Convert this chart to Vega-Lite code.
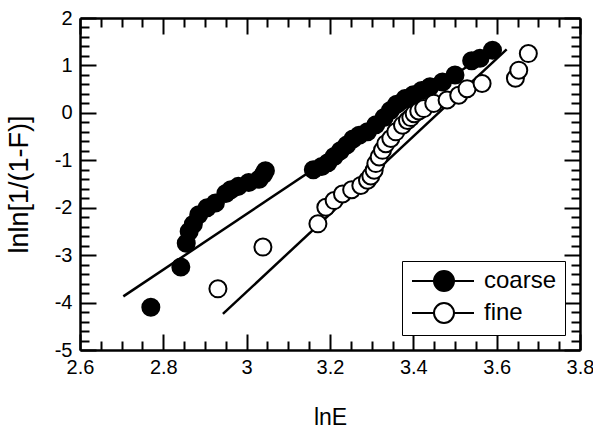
{
  "$schema": "https://vega.github.io/schema/vega-lite/v6.json",
  "autosize": "none",
  "width": 500,
  "height": 332,
  "padding": {"left": 80, "top": 18, "right": 13, "bottom": 82},
  "background": "white",
  "config": {
    "view": {"stroke": null},
    "font": "Liberation Sans",
    "axis": {
      "domainColor": "black", "domainWidth": 2.5, "tickColor": "black", "tickWidth": 2,
      "labelColor": "black", "titleColor": "black", "labelFont": "Liberation Sans",
      "titleFont": "Liberation Sans", "labelFontSize": 20, "titleFontSize": 25,
      "titleFontWeight": "normal", "grid": false, "labelOverlap": false, "labelFlush": false
    }
  },
  "datasets": {
    "pts": [
      {"series": "coarse", "lnE": 2.770, "y": -4.10},
      {"series": "coarse", "lnE": 2.842, "y": -3.25},
      {"series": "coarse", "lnE": 2.855, "y": -2.75},
      {"series": "coarse", "lnE": 2.862, "y": -2.50},
      {"series": "coarse", "lnE": 2.872, "y": -2.35},
      {"series": "coarse", "lnE": 2.885, "y": -2.15},
      {"series": "coarse", "lnE": 2.905, "y": -2.00},
      {"series": "coarse", "lnE": 2.925, "y": -1.90},
      {"series": "coarse", "lnE": 2.950, "y": -1.70},
      {"series": "coarse", "lnE": 2.962, "y": -1.62},
      {"series": "coarse", "lnE": 2.980, "y": -1.55},
      {"series": "coarse", "lnE": 3.005, "y": -1.47},
      {"series": "coarse", "lnE": 3.030, "y": -1.40},
      {"series": "coarse", "lnE": 3.040, "y": -1.30},
      {"series": "coarse", "lnE": 3.045, "y": -1.22},
      {"series": "coarse", "lnE": 3.160, "y": -1.20},
      {"series": "coarse", "lnE": 3.180, "y": -1.13},
      {"series": "coarse", "lnE": 3.195, "y": -1.05},
      {"series": "coarse", "lnE": 3.210, "y": -0.92},
      {"series": "coarse", "lnE": 3.225, "y": -0.80},
      {"series": "coarse", "lnE": 3.240, "y": -0.68},
      {"series": "coarse", "lnE": 3.255, "y": -0.55},
      {"series": "coarse", "lnE": 3.270, "y": -0.47},
      {"series": "coarse", "lnE": 3.290, "y": -0.40},
      {"series": "coarse", "lnE": 3.310, "y": -0.25},
      {"series": "coarse", "lnE": 3.330, "y": -0.10},
      {"series": "coarse", "lnE": 3.345, "y": 0.05},
      {"series": "coarse", "lnE": 3.360, "y": 0.18},
      {"series": "coarse", "lnE": 3.380, "y": 0.30},
      {"series": "coarse", "lnE": 3.400, "y": 0.38},
      {"series": "coarse", "lnE": 3.420, "y": 0.47},
      {"series": "coarse", "lnE": 3.440, "y": 0.55},
      {"series": "coarse", "lnE": 3.470, "y": 0.65},
      {"series": "coarse", "lnE": 3.500, "y": 0.80},
      {"series": "coarse", "lnE": 3.540, "y": 1.10},
      {"series": "coarse", "lnE": 3.560, "y": 1.15},
      {"series": "coarse", "lnE": 3.590, "y": 1.32},
      {"series": "fine", "lnE": 2.931, "y": -3.71},
      {"series": "fine", "lnE": 3.039, "y": -2.83},
      {"series": "fine", "lnE": 3.171, "y": -2.34},
      {"series": "fine", "lnE": 3.190, "y": -1.99},
      {"series": "fine", "lnE": 3.210, "y": -1.85},
      {"series": "fine", "lnE": 3.230, "y": -1.71},
      {"series": "fine", "lnE": 3.252, "y": -1.62},
      {"series": "fine", "lnE": 3.274, "y": -1.53},
      {"series": "fine", "lnE": 3.290, "y": -1.42},
      {"series": "fine", "lnE": 3.298, "y": -1.33},
      {"series": "fine", "lnE": 3.306, "y": -1.21},
      {"series": "fine", "lnE": 3.310, "y": -1.07},
      {"series": "fine", "lnE": 3.318, "y": -0.93},
      {"series": "fine", "lnE": 3.326, "y": -0.79},
      {"series": "fine", "lnE": 3.334, "y": -0.65},
      {"series": "fine", "lnE": 3.346, "y": -0.54},
      {"series": "fine", "lnE": 3.358, "y": -0.40},
      {"series": "fine", "lnE": 3.374, "y": -0.26},
      {"series": "fine", "lnE": 3.386, "y": -0.16},
      {"series": "fine", "lnE": 3.394, "y": -0.10},
      {"series": "fine", "lnE": 3.402, "y": -0.02},
      {"series": "fine", "lnE": 3.413, "y": 0.04},
      {"series": "fine", "lnE": 3.425, "y": 0.09},
      {"series": "fine", "lnE": 3.449, "y": 0.20},
      {"series": "fine", "lnE": 3.481, "y": 0.27},
      {"series": "fine", "lnE": 3.509, "y": 0.37},
      {"series": "fine", "lnE": 3.529, "y": 0.51},
      {"series": "fine", "lnE": 3.565, "y": 0.62},
      {"series": "fine", "lnE": 3.645, "y": 0.73},
      {"series": "fine", "lnE": 3.653, "y": 0.90},
      {"series": "fine", "lnE": 3.676, "y": 1.25}
    ],
    "fits": [
      {"series": "coarse", "lnE": 2.704, "y": -3.87},
      {"series": "coarse", "lnE": 3.55, "y": 1.10},
      {"series": "fine", "lnE": 2.943, "y": -4.24},
      {"series": "fine", "lnE": 3.624, "y": 1.34}
    ]
  },
  "layer": [
    {
      "data": {"name": "fits"},
      "transform": [{"filter": "datum.series === 'coarse'"}],
      "mark": {"type": "line", "color": "black", "strokeWidth": 2.5},
      "encoding": {
        "x": {"field": "lnE", "type": "quantitative", "scale": {"domain": [2.6, 3.8], "nice": false, "zero": false},
          "axis": {"orient": "bottom", "title": "lnE", "titlePadding": 22, "titleFontSize": 23,
            "values": [2.6,2.65,2.7,2.75,2.8,2.85,2.9,2.95,3,3.05,3.1,3.15,3.2,3.25,3.3,3.35,3.4,3.45,3.5,3.55,3.6,3.65,3.7,3.75,3.8],
            "labelExpr": "abs(datum.value*5 - round(datum.value*5)) < 0.001 ? toString(datum.value) : ''",
            "tickSize": {"condition": {"test": "abs(datum.value*5 - round(datum.value*5)) < 0.001", "value": -16}, "value": -9},
            "labelPadding": 23}},
        "y": {"field": "y", "type": "quantitative", "scale": {"domain": [-5, 2], "nice": false, "zero": false},
          "axis": {"orient": "left", "title": "lnln[1/(1-F)]", "titlePadding": 21, "titleFontSize": 27,
            "values": [-5,-4.8,-4.6,-4.4,-4.2,-4,-3.8,-3.6,-3.4,-3.2,-3,-2.8,-2.6,-2.4,-2.2,-2,-1.8,-1.6,-1.4,-1.2,-1,-0.8,-0.6,-0.4,-0.2,0,0.2,0.4,0.6,0.8,1,1.2,1.4,1.6,1.8,2],
            "labelExpr": "abs(datum.value - round(datum.value)) < 0.001 ? toString(round(datum.value)) : ''",
            "tickSize": {"condition": {"test": "abs(datum.value - round(datum.value)) < 0.001", "value": -16}, "value": -9},
            "labelPadding": 24}}
      }
    },
    {
      "data": {"name": "fits"},
      "transform": [{"filter": "datum.series === 'fine'"}],
      "mark": {"type": "line", "color": "black", "strokeWidth": 2.5},
      "encoding": {
        "x": {"field": "lnE", "type": "quantitative",
          "axis": {"orient": "top", "title": null, "labels": false,
            "values": [2.6,2.65,2.7,2.75,2.8,2.85,2.9,2.95,3,3.05,3.1,3.15,3.2,3.25,3.3,3.35,3.4,3.45,3.5,3.55,3.6,3.65,3.7,3.75,3.8],
            "tickSize": {"condition": {"test": "abs(datum.value*5 - round(datum.value*5)) < 0.001", "value": -16}, "value": -9}}},
        "y": {"field": "y", "type": "quantitative",
          "axis": {"orient": "right", "title": null, "labels": false,
            "values": [-5,-4.8,-4.6,-4.4,-4.2,-4,-3.8,-3.6,-3.4,-3.2,-3,-2.8,-2.6,-2.4,-2.2,-2,-1.8,-1.6,-1.4,-1.2,-1,-0.8,-0.6,-0.4,-0.2,0,0.2,0.4,0.6,0.8,1,1.2,1.4,1.6,1.8,2],
            "tickSize": {"condition": {"test": "abs(datum.value - round(datum.value)) < 0.001", "value": -16}, "value": -9}}}
      }
    },
    {
      "data": {"name": "pts"},
      "mark": {"type": "point", "shape": "circle", "filled": false, "stroke": "black", "strokeWidth": 2, "size": 290, "opacity": 1},
      "encoding": {
        "x": {"field": "lnE", "type": "quantitative", "axis": null},
        "y": {"field": "y", "type": "quantitative", "axis": null},
        "fill": {"field": "series", "type": "nominal",
          "scale": {"domain": ["coarse", "fine"], "range": ["black", "white"]},
          "legend": {"title": null, "orient": "bottom-right", "offset": 15,
            "fillColor": "white", "strokeColor": "black", "padding": 8,
            "symbolType": "M-3.2,0L-1,0M1,0L3,0M1,0A1,1,0,1,1,-1,0A1,1,0,1,1,1,0Z",
            "symbolSize": 400, "symbolStrokeColor": "black", "symbolStrokeWidth": 2,
            "symbolOffset": 22, "labelOffset": 28, "labelFontSize": 24, "labelColor": "black",
            "labelFont": "Liberation Sans", "rowPadding": 4, "symbolOpacity": 1}}
      }
    }
  ],
  "resolve": {"axis": {"x": "independent", "y": "independent"}}
}
